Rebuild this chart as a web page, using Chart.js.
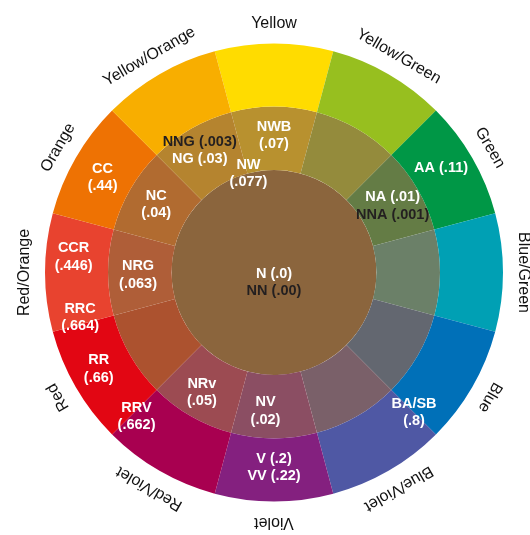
<!DOCTYPE html>
<html>
<head>
<meta charset="utf-8">
<script src="https://cdn.jsdelivr.net/npm/chart.js@4.4.1/dist/chart.umd.min.js"></script>
<style>
  html, body { margin: 0; padding: 0; background: #fff; }
  #wrap { position: relative; width: 530px; height: 535px; }
</style>
</head>
<body>
<div id="wrap"><canvas id="wheel"></canvas></div>
<script>
// hue families, clockwise from the top
const hues = ['Yellow', 'Yellow/Green', 'Green', 'Blue/Green', 'Blue', 'Blue/Violet',
    'Violet', 'Red/Violet', 'Red', 'Red/Orange', 'Orange', 'Yellow/Orange'];
// every family takes the same twelfth of the wheel
const hueShare = [1, 1, 1, 1, 1, 1, 1, 1, 1, 1, 1, 1];
const neutralShare = [1];

// notation codes and their values, one block per spot on the wheel
const codes = [
    ['NWB', '(.07)'],
    ['NNG (.003)', 'NG (.03)'],
    ['NW', '(.077)'],
    ['CC', '(.44)'],
    ['NC', '(.04)'],
    ['CCR', '(.446)'],
    ['NRG', '(.063)'],
    ['RRC', '(.664)'],
    ['RR', '(.66)'],
    ['RRV', '(.662)'],
    ['NRv', '(.05)'],
    ['NV', '(.02)'],
    ['V (.2)', 'VV (.22)'],
    ['BA/SB', '(.8)'],
    ['NA (.01)', 'NNA (.001)'],
    ['AA (.11)'],
    ['N (.0)', 'NN (.00)']
];
// lines printed in black instead of white
const darkLines = ['NNG (.003)', 'NNA (.001)', 'NN (.00)'];

// where each block sits: [degrees clockwise from top, px from centre]
const codeAt = [
    [0, 137], [-31.3, 143], [-14.5, 102], [-61, 196], [-60, 136], [-85.6, 201],
    [-91, 136], [-103, 199], [-118.8, 200], [-136.3, 199], [-149, 140], [-176.5, 139],
    [180, 195], [135, 198], [60.7, 136], [58, 197], [180, 10]
];

const outerColors = ['#ffdc00', '#97bf1f', '#009746', '#00a0b4', '#0070b8', '#4f58a4',
    '#84207f', '#a80050', '#e20613', '#e8432f', '#ee7203', '#f8ae00'];
const innerColors = ['#b8912f', '#948b3c', '#647c45', '#6b8068', '#636770', '#7a6069',
    '#8b4e63', '#9c4b52', '#ac522f', '#af5e38', '#b16b30', '#b5842f'];
const neutralColor = '#8b653d';

const wheelText = {
    id: 'wheelText',
    afterDatasetsDraw(chart) {
        const ctx = chart.ctx;
        const ring = chart.getDatasetMeta(0).data;
        const cx = ring[0].x, cy = ring[0].y;
        const labelR = ring[0].outerRadius + 16;

        ctx.save();
        ctx.textAlign = 'center';
        ctx.textBaseline = 'alphabetic';
        ctx.fillStyle = '#111111';
        ctx.font = '16px "Liberation Sans", Arial, sans-serif';
        ring.forEach((arc, i) => {
            const mid = (arc.startAngle + arc.endAngle) / 2;
            ctx.save();
            ctx.translate(cx, cy);
            ctx.rotate(mid + Math.PI / 2);
            ctx.fillText(hues[i], 0, -labelR);
            ctx.restore();
        });

        const gap = 17.5;
        ctx.textBaseline = 'middle';
        ctx.font = 'bold 14.5px "Liberation Sans", Arial, sans-serif';
        codes.forEach((lines, i) => {
            const a = codeAt[i][0] * Math.PI / 180;
            const x = cx + codeAt[i][1] * Math.sin(a);
            const y = cy - codeAt[i][1] * Math.cos(a);
            const top = y - (lines.length - 1) * gap / 2;
            lines.forEach((t, j) => {
                ctx.fillStyle = darkLines.includes(t) ? '#231f20' : '#ffffff';
                ctx.fillText(t, x, top + j * gap);
            });
        });
        ctx.restore();
    }
};

new Chart(document.getElementById('wheel'), {
    type: 'pie',
    data: {
        labels: hues,
        datasets: [
            { data: hueShare, backgroundColor: outerColors, borderWidth: 0, weight: 63 },
            { data: hueShare, backgroundColor: innerColors, borderWidth: 0, weight: 63.5 },
            { data: neutralShare, backgroundColor: [neutralColor], borderWidth: 0, weight: 102.5 }
        ]
    },
    options: {
        responsive: true,
        maintainAspectRatio: false,
        animation: false,
        rotation: -15,
        layout: { padding: { left: 45, right: 27, top: 43.5, bottom: 33.5 } },
        plugins: {
            legend: { display: false },
            tooltip: { enabled: false }
        }
    },
    plugins: [wheelText]
});
</script>
</body>
</html>
